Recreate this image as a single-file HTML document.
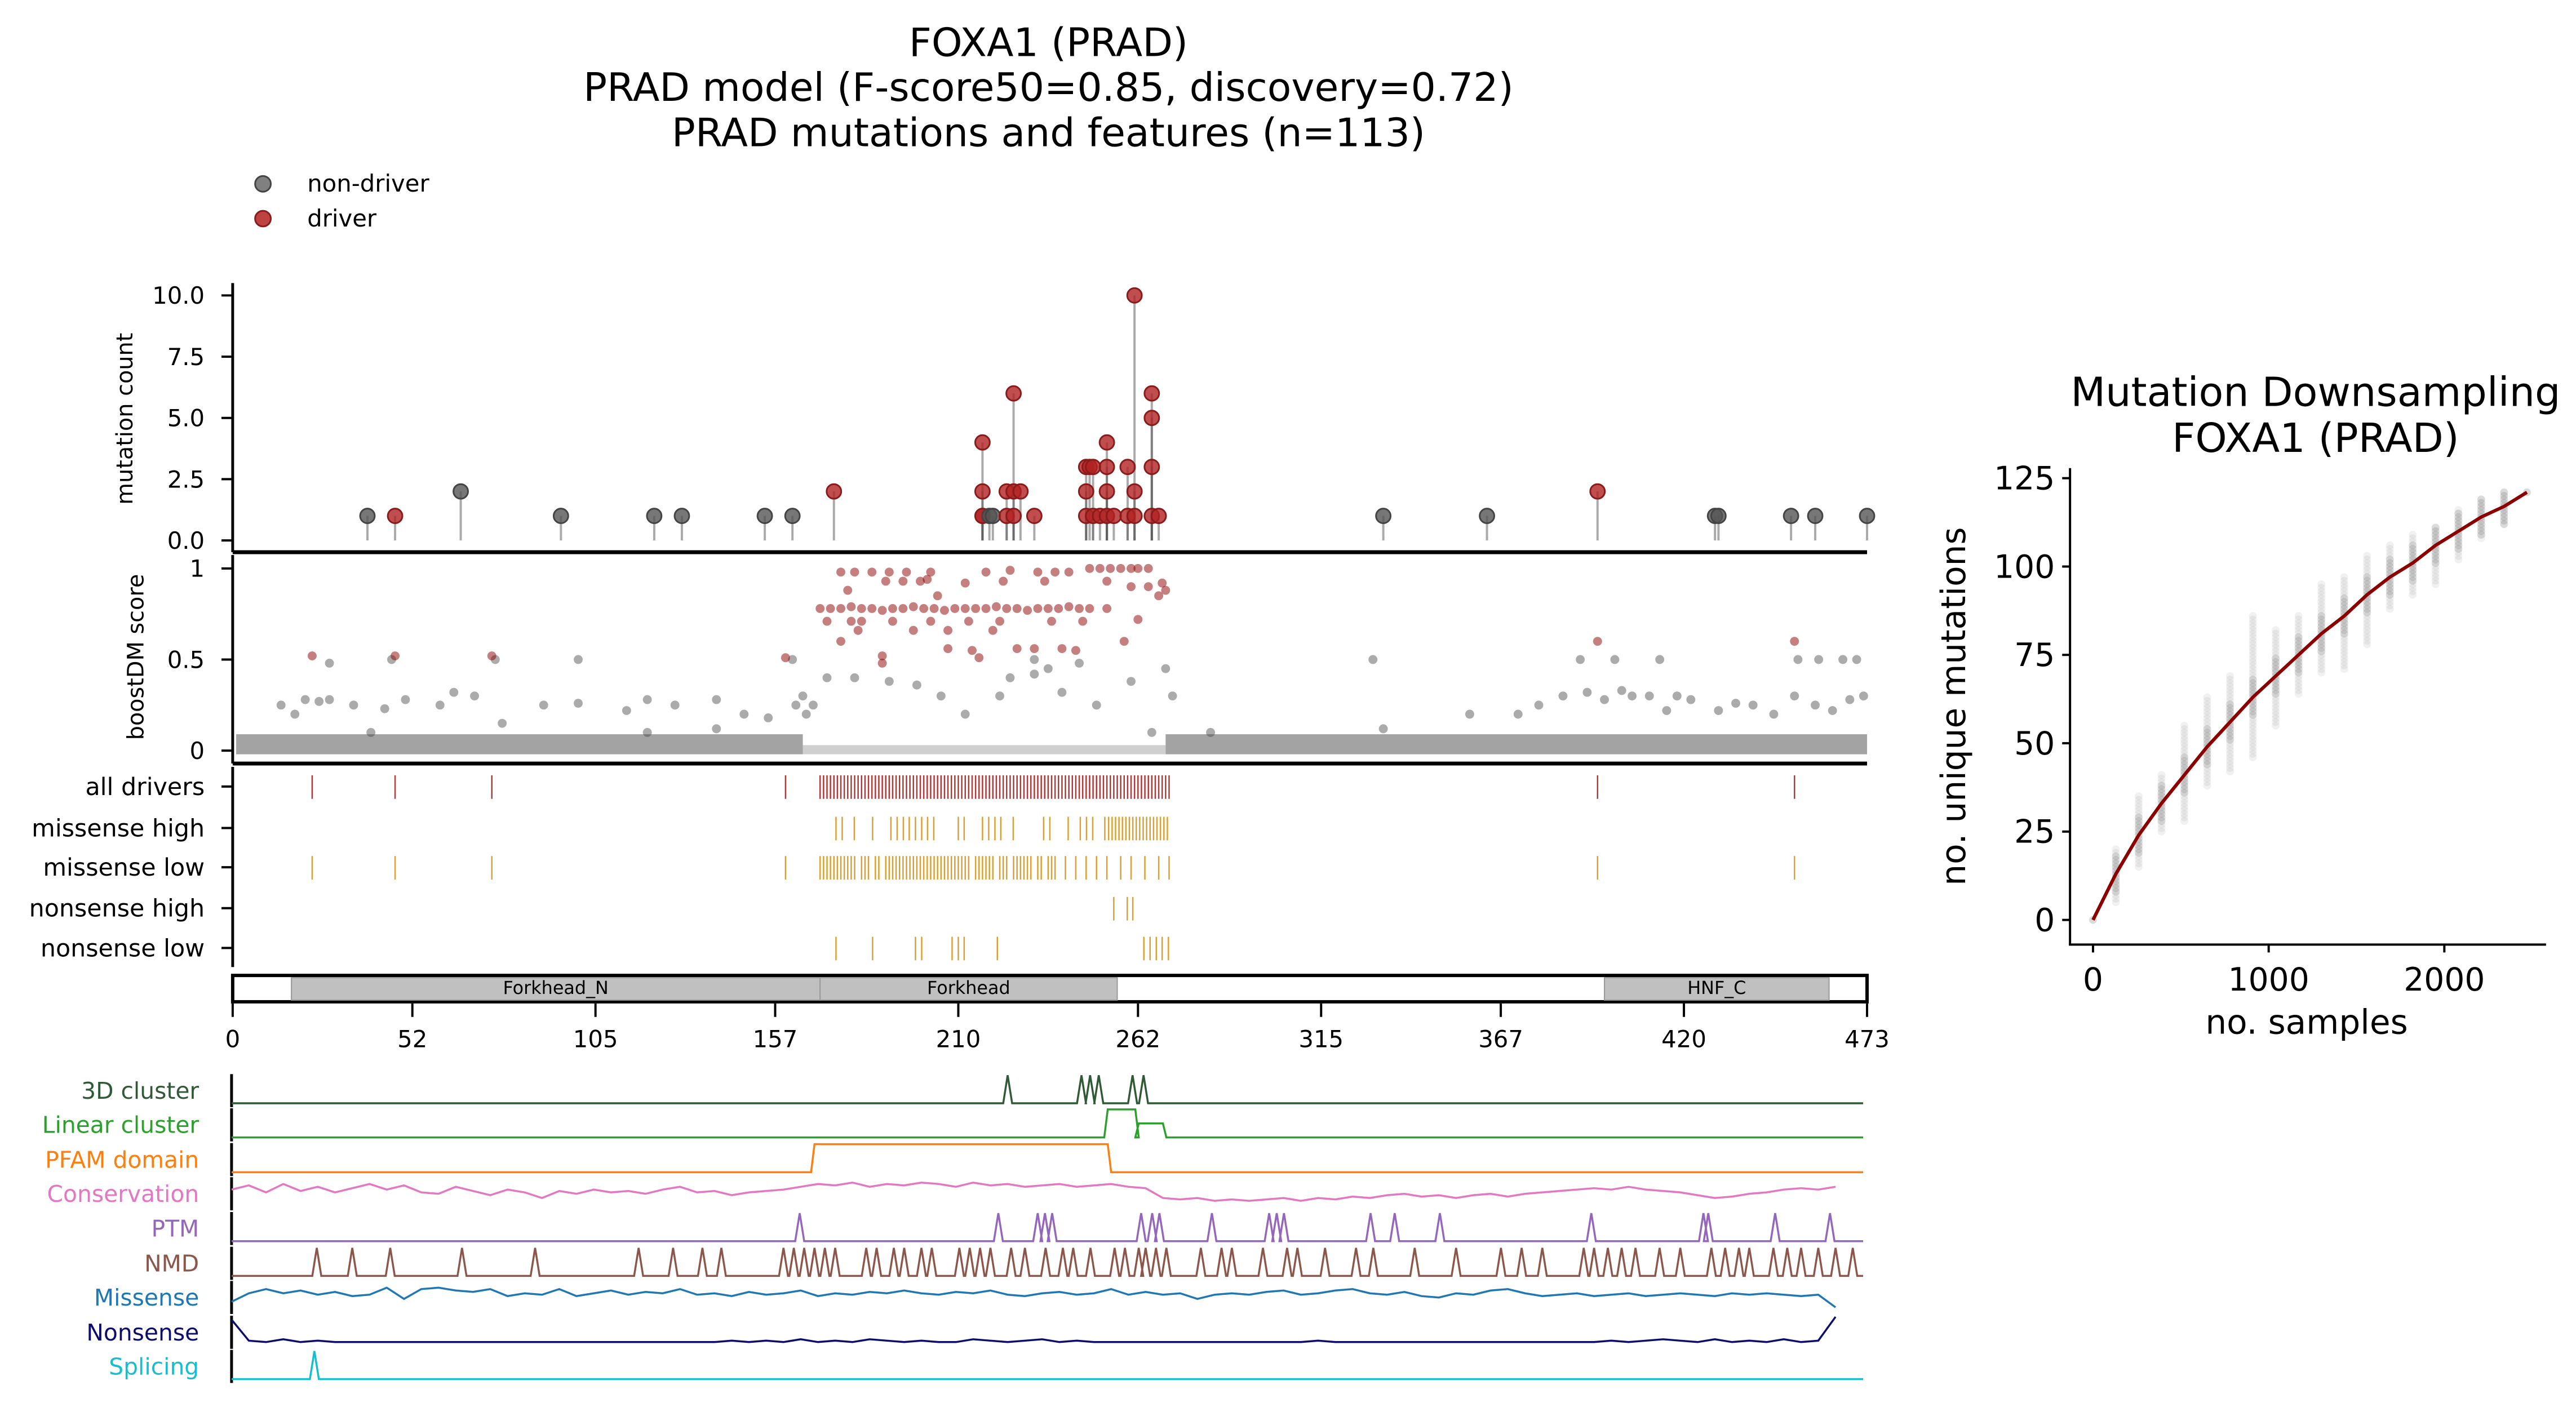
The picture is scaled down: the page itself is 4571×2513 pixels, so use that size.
<!DOCTYPE html>
<html><head><meta charset="utf-8">
<style>
html,body{margin:0;padding:0;background:#fff;}
svg{display:block;font-family:"DejaVu Sans","Liberation Sans",sans-serif;}
</style></head>
<body>
<svg id="chart" width="4571" height="2513" viewBox="0 0 4571 2513" xmlns="http://www.w3.org/2000/svg">
<g transform="scale(0.9949)">
<g font-size="70" text-anchor="middle" fill="#000">
<text x="1870" y="100">FOXA1 (PRAD)</text>
<text x="1870" y="180">PRAD model (F-score50=0.85, discovery=0.72)</text>
<text x="1870" y="261">PRAD mutations and features (n=113)</text>
</g>
<g font-size="42">
<circle cx="469" cy="328" r="14" fill="#555" fill-opacity="0.75" stroke="#444" stroke-width="3"/>
<text x="548" y="342">non-driver</text>
<circle cx="469" cy="390" r="14" fill="#b22222" fill-opacity="0.85" stroke="#8b1a1a" stroke-width="3"/>
<text x="548" y="404">driver</text>
</g>
<g id="main"></g>
<g id="right"></g>
</g>
</svg>
<script>
const NS="http://www.w3.org/2000/svg";
// ---- data: lollipop ----
const lolPos=[39,47,66,95,122,130,154,162,174,217,217,217,217,219,220,224,224,226,226,226,228,232,247,247,247,248,249,249,251,253,253,253,253,255,259,259,261,261,261,266,266,266,266,268,333,363,395,429,430,451,458,473];
const lolCount=[1,1,2,1,1,1,1,1,2,4,2,1,1,1,1,2,1,6,2,1,2,1,3,2,1,3,3,1,1,4,3,2,1,1,3,1,10,2,1,6,5,3,1,1,1,1,2,1,1,1,1,1];
const lolDriver=[0,1,0,0,0,0,0,0,1,1,1,1,1,0,0,1,1,1,1,1,1,1,1,1,1,1,1,1,1,1,1,1,1,1,1,1,1,1,1,1,1,1,1,1,0,0,1,0,0,0,0,0];
const countTicks=[0,2.5,5,7.5,10];
const countTickLabels=["0.0","2.5","5.0","7.5","10.0"];
// ---- data: boostDM ----
const redPos=[176,180,185,190,195,202,218,225,233,238,242,248,251,254,257,260,262,265,189,194,199,201,212,223,235,253,260,265,269,170,173,176,179,182,185,188,191,194,197,200,203,206,209,212,215,218,221,224,227,230,233,236,239,242,245,248,253,172,179,182,191,202,213,222,237,246,181,197,207,220,207,214,227,232,240,244,188,216,160,176,188,23,47,75,395,452,268,270,262,258,178,204];
const redScore=[0.98,0.98,0.98,0.98,0.98,0.98,0.98,0.99,0.98,0.98,0.98,1,1,1,1,1,1,1,0.93,0.93,0.93,0.94,0.92,0.93,0.93,0.93,0.9,0.9,0.92,0.78,0.78,0.78,0.79,0.78,0.78,0.77,0.78,0.78,0.79,0.78,0.78,0.77,0.78,0.78,0.78,0.78,0.79,0.78,0.78,0.77,0.78,0.78,0.78,0.79,0.78,0.78,0.78,0.71,0.71,0.71,0.71,0.71,0.71,0.71,0.71,0.71,0.66,0.66,0.66,0.66,0.56,0.55,0.56,0.56,0.56,0.55,0.52,0.51,0.51,0.6,0.48,0.52,0.52,0.52,0.6,0.6,0.85,0.88,0.72,0.6,0.88,0.85];
const greyPos=[14,18,21,25,28,35,40,44,50,60,64,70,78,90,100,114,120,128,140,148,155,163,165,166,168,172,180,190,198,205,212,222,232,240,250,260,266,270,272,283,333,358,372,378,385,392,397,402,405,410,415,418,422,430,435,440,446,452,458,463,468,472,28,46,76,100,162,330,390,400,413,453,459,466,470,120,140,225,236,245,232];
const greyScore=[0.25,0.2,0.28,0.27,0.28,0.25,0.1,0.23,0.28,0.25,0.32,0.3,0.15,0.25,0.26,0.22,0.28,0.25,0.28,0.2,0.18,0.25,0.3,0.2,0.25,0.4,0.4,0.38,0.36,0.3,0.2,0.3,0.42,0.32,0.25,0.38,0.1,0.45,0.3,0.1,0.12,0.2,0.2,0.25,0.3,0.32,0.28,0.33,0.3,0.3,0.22,0.3,0.28,0.22,0.26,0.25,0.2,0.3,0.25,0.22,0.28,0.3,0.48,0.5,0.5,0.5,0.5,0.5,0.5,0.5,0.5,0.5,0.5,0.5,0.5,0.1,0.12,0.4,0.45,0.48,0.5];
// ---- data: tracks ----
const driverPos=[23,47,75,160,170,171,172,173,174,175,176,177,178,179,180,181,182,183,184,185,186,187,188,189,190,191,192,193,194,195,196,197,198,199,200,201,202,203,204,205,206,207,208,209,210,211,212,213,214,215,216,217,218,219,220,221,222,223,224,225,226,227,228,229,230,231,232,233,234,235,236,237,238,239,240,241,242,243,244,245,246,247,248,249,250,251,252,253,254,255,256,257,258,259,260,261,262,263,264,265,266,267,268,269,270,271,395,452];
const misHighPos=[174.6,176.4,179.9,185.2,190.5,192.3,194.1,195.8,197.6,199.4,201.1,202.9,210,211.7,217,218.8,220.6,222.3,225.9,234.7,236.5,241.8,245.3,247.1,248.9,252.4,253.5,254.5,255.5,256.5,257.5,258.5,259.5,260.5,261.5,262.5,263.5,264.5,265.5,266.5,267.5,268.5,269.5,270.5];
const misLowPos=[23,47,75,160,170,171,172,173,174,175,176,177,178,179,180,182,183,184,186,187,189,190,191,192,193,194,195,196,197,198,199,200,201,202,203,204,205,206,207,208,209,210,211,212,213,215,216,217,218,219,220,222,223,224,226,227,228,229,230,231,233,234,236,237,238,241,244,247,250,253,257,260,264,268,271,395,452];
const nonHighPos=[255,258.9,260.5];
const nonLowPos=[174.6,185.2,197.6,199.4,208.2,210,211.7,221.3,263.7,265.5,267.3,269,270.8];
const trackNames=["all drivers","missense high","missense low","nonsense high","nonsense low"];
const domainNames=["Forkhead_N","Forkhead","HNF_C"];
const domainStart=[17,170,397];
const domainEnd=[170,256,462];
const aaTicks=[0,52,105,157,210,262,315,367,420,473];
// ---- data: features ----
const cluster3dPeaks=[225,246.4,248.9,251.4,261.2,264.4];
const linearStart=[253,262];const linearEnd=[262,270];const linearLevel=[1,0.5];
const pfamStart=[168];const pfamEnd=[254];
const conservation=[.6,.75,.5,.8,.55,.7,.5,.65,.8,.6,.75,.5,.45,.7,.55,.4,.6,.5,.3,.55,.45,.6,.5,.55,.45,.6,.7,.5,.55,.4,.5,.55,.6,.7,.8,.75,.85,.7,.8,.75,.85,.8,.7,.85,.75,.8,.7,.75,.8,.7,.75,.8,.7,.65,.3,.25,.3,.2,.25,.2,.25,.3,.2,.3,.25,.35,.3,.4,.45,.35,.4,.3,.4,.45,.35,.45,.5,.55,.6,.65,.6,.7,.6,.55,.5,.4,.3,.35,.45,.5,.6,.65,.6,.7];
const ptmPeaks=[164.7,222.3,233.7,235.8,237.9,263.7,266.9,269,284.2,300.8,303,305.1,330.2,337.2,350.3,394.2,426.7,428.1,447.5,463.4];
const nmdPeaks=[24.7,35,46,66.8,88,118,128,136.5,142,160,163,166,169,172,175,184,187,192,195,200,203,211,214,217,220,226,230,236,241,244,249,256,259,263,265,268,271,281,287,290,299,306,309,317,326,331,343,355,368,374,380,392,395,399,403,407,414,420,429,433,437,440,447,451,455,460,465,470];
const missense=[.3,.6,.75,.6,.7,.55,.65,.5,.55,.8,.4,.75,.8,.7,.65,.75,.5,.6,.55,.75,.5,.6,.7,.55,.65,.6,.75,.55,.6,.5,.65,.55,.6,.7,.5,.6,.55,.65,.6,.7,.6,.55,.65,.6,.7,.55,.5,.6,.65,.55,.6,.75,.55,.65,.55,.6,.4,.55,.6,.55,.65,.7,.55,.6,.7,.75,.6,.55,.65,.5,.45,.6,.55,.7,.75,.6,.5,.55,.6,.5,.55,.6,.5,.55,.6,.55,.5,.6,.55,.6,.55,.5,.55,.1];
const nonsense=[.9,.15,.1,.2,.1,.15,.1,.1,.1,.1,.1,.1,.1,.1,.1,.1,.1,.1,.1,.1,.1,.1,.1,.1,.1,.1,.1,.1,.1,.15,.1,.15,.1,.2,.1,.15,.1,.2,.15,.1,.15,.1,.1,.2,.15,.1,.15,.2,.1,.15,.1,.1,.1,.1,.1,.1,.1,.1,.1,.1,.1,.1,.1,.15,.1,.1,.1,.1,.1,.1,.1,.1,.1,.1,.1,.1,.1,.1,.1,.1,.15,.1,.15,.2,.15,.1,.2,.1,.15,.1,.2,.1,.15,1];
const splicingPeaks=[24];
const featureNames=["3D cluster","Linear cluster","PFAM domain","Conservation","PTM","NMD","Missense","Nonsense","Splicing"];
const featureColors=["#2f5a35","#2ca02c","#ff7f0e","#e377c2","#9467bd","#8c564b","#1f77b4","#0d0d6b","#17becf"];
// ---- data: downsampling ----
const dsSamples=[0,130,260,390,520,650,780,910,1040,1170,1300,1430,1560,1690,1820,1950,2080,2210,2340,2470];
const dsMean=[0,13,24,33,41,49,56,63,69,75,81,86,92,97,101,106,110,114,117,121];
const dsMin=[0,5,15,25,28,38,42,46,55,64,70,71,78,88,92,95,102,108,112,121];
const dsMax=[0,20,35,41,55,63,69,86,82,86,95,97,103,106,109,111,116,119,121,121];
const dsXTicks=[0,1000,2000];
const dsYTicks=[0,25,50,75,100,125];

function el(tag,attrs,parent,txt){const e=document.createElementNS(NS,tag);for(const k in attrs)e.setAttribute(k,attrs[k]);if(txt!==undefined)e.textContent=txt;parent.appendChild(e);return e;}
const main=document.getElementById('main');
const X0=415,X1=3330;
const ax=a=>X0+a/473*(X1-X0);
const fx=a=>413+a/473*(3323-413);
// lollipop panel
const cy=c=>964-c*43.7;
const gTop=el('g',{},main);


el('line',{x1:X0,y1:505,x2:X0,y2:985,stroke:'#000','stroke-width':5},gTop);
el('line',{x1:X0,y1:985,x2:X1,y2:985,stroke:'#000','stroke-width':7},gTop);
countTicks.forEach((t,i)=>{el('line',{x1:X0-20,y1:cy(t),x2:X0,y2:cy(t),stroke:'#000','stroke-width':4},gTop);
 const tl=el('text',{x:X0-50,y:cy(t)+15,'font-size':42,'text-anchor':'end'},gTop,countTickLabels[i]);
 
 });
const yt1=el('text',{x:236,y:747,'font-size':40,'text-anchor':'middle',transform:'rotate(-90 236 747)'},gTop,'mutation count');


lolPos.forEach((p,i)=>{el('line',{x1:ax(p),y1:cy(0),x2:ax(p),y2:cy(lolCount[i]),stroke:'#555','stroke-opacity':0.5,'stroke-width':4},gTop);});
lolPos.forEach((p,i)=>{const d=lolDriver[i];
 const c=el('circle',{cx:ax(p),cy:cy(lolCount[i]),r:13,fill:d?'#b22222':'#555','fill-opacity':0.8,stroke:d?'#8b1a1a':'#444','stroke-width':3},gTop);
 
 });
// boostDM panel
const sy=s=>1339-s*325;
const gB=el('g',{},main);


el('line',{x1:X0,y1:990,x2:X0,y2:1362,stroke:'#000','stroke-width':5},gB);
el('line',{x1:X0,y1:1362,x2:X1,y2:1362,stroke:'#000','stroke-width':7},gB);
[[0,'0'],[0.5,'0.5'],[1,'1']].forEach(t=>{el('line',{x1:X0-20,y1:sy(t[0]),x2:X0,y2:sy(t[0]),stroke:'#000','stroke-width':4},gB);
 const tl=el('text',{x:X0-50,y:sy(t[0])+15,'font-size':42,'text-anchor':'end'},gB,t[1]);
 
 });
const yt2=el('text',{x:256,y:1172,'font-size':40,'text-anchor':'middle',transform:'rotate(-90 256 1172)'},gB,'boostDM score');


el('rect',{x:ax(1),y:sy(0.09),width:ax(165)-ax(1),height:sy(-0.02)-sy(0.09),fill:'#666','fill-opacity':0.6},gB);
el('rect',{x:ax(270),y:sy(0.09),width:ax(473)-ax(270),height:sy(-0.02)-sy(0.09),fill:'#666','fill-opacity':0.6},gB);
el('rect',{x:ax(165),y:sy(0.03),width:ax(270)-ax(165),height:sy(-0.02)-sy(0.03),fill:'#888','fill-opacity':0.4},gB);
greyPos.forEach((p,i)=>{const c=el('circle',{cx:ax(p),cy:sy(greyScore[i]),r:8,fill:'#444','fill-opacity':0.45},gB);
 
 });
redPos.forEach((p,i)=>{const c=el('circle',{cx:ax(p),cy:sy(redScore[i]),r:8,fill:'#8b0000','fill-opacity':0.5},gB);
 
 });
// tick tracks
const gT=el('g',{},main);


el('line',{x1:X0,y1:1368,x2:X0,y2:1725,stroke:'#000','stroke-width':5},gT);
const trackY=[1403,1477,1547,1620,1691];
const trackData=[driverPos,misHighPos,misLowPos,nonHighPos,nonLowPos];
trackNames.forEach((n,i)=>{const y=trackY[i];
 el('line',{x1:X0-20,y1:y,x2:X0,y2:y,stroke:'#000','stroke-width':4},gT);
 const tl=el('text',{x:X0-50,y:y+15,'font-size':43,'text-anchor':'end'},gT,n);
 
 
 trackData[i].forEach(p=>{const l=el('line',{x1:ax(p),y1:y-20,x2:ax(p),y2:y+22,stroke:i==0?'#b03a3a':'#d9a036','stroke-width':2.5},gT);
  
  });});
// domain box
const gD=el('g',{},main);


el('rect',{x:X0,y:1740,width:X1-X0,height:47,fill:'#fff',stroke:'#000','stroke-width':6},gD);
domainNames.forEach((n,i)=>{const r=el('rect',{x:ax(domainStart[i]),y:1744,width:ax(domainEnd[i])-ax(domainStart[i]),height:40,fill:'#c0c0c0',stroke:'#999','stroke-width':2},gD);
 
 
 el('text',{x:(ax(domainStart[i])+ax(domainEnd[i]))/2,y:1773,'font-size':32,'text-anchor':'middle'},gD,n);});
aaTicks.forEach(t=>{el('line',{x1:ax(t),y1:1790,x2:ax(t),y2:1814,stroke:'#000','stroke-width':4},gD);
 const tl=el('text',{x:ax(t),y:1868,'font-size':42,'text-anchor':'middle'},gD,String(t));
 
 });
// features
const gF=el('g',{},main);


function peaksPath(peaks){let pts=[[0,0]];peaks.slice().sort((a,b)=>a-b).forEach(p=>{pts.push([p-1.3,0],[p,1],[p+1.3,0]);});pts.push([473,0]);return pts;}
function stepPath(starts,ends,levels){let pts=[[0,0]];starts.forEach((s,i)=>{pts.push([s,0],[s+1,levels[i]],[ends[i],levels[i]],[ends[i]+1,0]);});pts.push([473,0]);return pts;}
function seriesPath(vals){return vals.map((v,i)=>[Math.min(i*5,473),v]);}
const featPts=[peaksPath(cluster3dPeaks),stepPath(linearStart,linearEnd,linearLevel),stepPath(pfamStart,pfamEnd,[1]),seriesPath(conservation),peaksPath(ptmPeaks),peaksPath(nmdPeaks),seriesPath(missense),seriesPath(nonsense),peaksPath(splicingPeaks)];
const featY=[1946,2007,2069,2130,2192,2254,2315,2377,2438];
featureNames.forEach((n,i)=>{const ly=featY[i],base=ly+22,h=50;
 el('line',{x1:413,y1:ly-30,x2:413,y2:ly+29,stroke:'#000','stroke-width':5},gF);
 const tl=el('text',{x:355,y:ly+14,'font-size':41,'text-anchor':'end',fill:featureColors[i]},gF,n);
 
 
 const pts=featPts[i];
 const d=pts.map((p,j)=>(j?'L':'M')+fx(p[0]).toFixed(1)+' '+(base-p[1]*h).toFixed(1)).join(' ');
 const pth=el('path',{d:d,fill:'none',stroke:featureColors[i],'stroke-width':3.5},gF);
 
 });
// right chart
const R=document.getElementById('right');
const rx=v=>3733+v*0.3133;
const ry=v=>1641-v*6.304;


el('text',{x:4130,y:724,'font-size':72,'text-anchor':'middle'},R,'Mutation Downsampling');
el('text',{x:4130,y:806,'font-size':72,'text-anchor':'middle'},R,'FOXA1 (PRAD)');
el('line',{x1:3692,y1:835,x2:3692,y2:1686,stroke:'#000','stroke-width':4},R);
el('line',{x1:3690,y1:1685,x2:4541,y2:1685,stroke:'#000','stroke-width':4},R);
dsYTicks.forEach(t=>{el('line',{x1:3678,y1:ry(t),x2:3692,y2:ry(t),stroke:'#000','stroke-width':4},R);
 const tl=el('text',{x:3665,y:ry(t)+20,'font-size':57,'text-anchor':'end'},R,String(t));
 
 });
dsXTicks.forEach(t=>{el('line',{x1:rx(t),y1:1685,x2:rx(t),y2:1699,stroke:'#000','stroke-width':4},R);
 const tl=el('text',{x:rx(t),y:1767,'font-size':57,'text-anchor':'middle'},R,String(t));
 
 });
const xl=el('text',{x:4114,y:1844,'font-size':60,'text-anchor':'middle'},R,'no. samples');


const yl=el('text',{x:3505,y:1260,'font-size':60,'text-anchor':'middle',transform:'rotate(-90 3505 1260)'},R,'no. unique mutations');


dsSamples.forEach((s,i)=>{for(let v=dsMin[i];v<=dsMax[i];v+=1){const c=el('circle',{cx:rx(s),cy:ry(v),r:7,fill:'#888','fill-opacity':(Math.abs(v-dsMean[i])<6)?0.3:0.12},R);
 
 }});
const dpath=dsSamples.map((s,i)=>(i?'L':'M')+rx(s).toFixed(1)+' '+ry(dsMean[i]).toFixed(1)).join(' ');
const mp=el('path',{d:dpath,fill:'none',stroke:'#8b0000','stroke-width':6},R);


</script>
</body></html>
